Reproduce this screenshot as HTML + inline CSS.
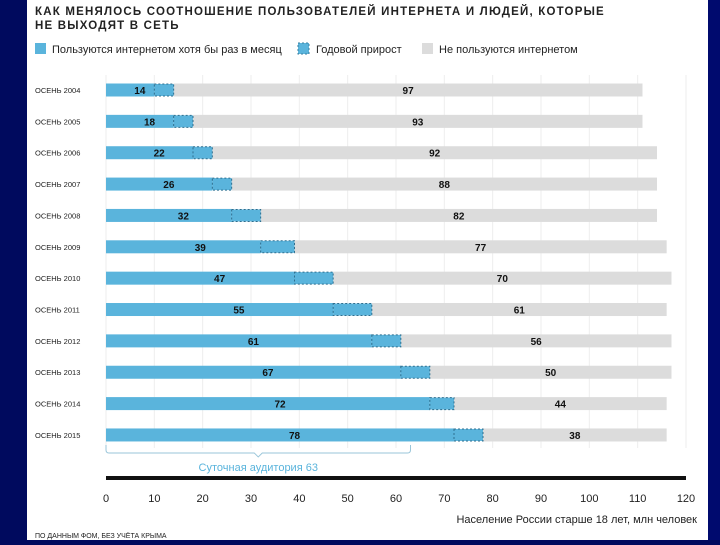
<!DOCTYPE html>
<html><head><meta charset="utf-8"><style>
body{margin:0;width:720px;height:540px;overflow:hidden;background:#000a5e;font-family:"Liberation Sans","Noto Sans CJK SC",sans-serif}
#wrap{position:absolute;left:0;top:0;width:720px;height:540px}
</style></head><body>
<div id="wrap">
<svg id="chart" width="720" height="540">
  <rect x="0" y="0" width="27" height="540" fill="#000a5e"/>
  <rect x="27" y="0" width="681" height="540" fill="#ffffff"/>
  <rect x="708" y="0" width="12" height="540" fill="#000a6e"/>
  <text x="35" y="15" font-size="11.5" font-weight="bold" letter-spacing="1.2" fill="#222">КАК МЕНЯЛОСЬ СООТНОШЕНИЕ ПОЛЬЗОВАТЕЛЕЙ ИНТЕРНЕТА И ЛЮДЕЙ, КОТОРЫЕ</text>
  <text x="35" y="29" font-size="11.5" font-weight="bold" letter-spacing="1.2" fill="#222">НЕ ВЫХОДЯТ В СЕТЬ</text>
  <g>
    <rect x="35" y="43" width="11" height="11" fill="#5ab4dc"/>
    <text x="52" y="53" font-size="11" fill="#222">Пользуются интернетом хотя бы раз в месяц</text>
    <rect x="298" y="43" width="11" height="11" fill="#5ab4dc" stroke="#3a7fa0" stroke-dasharray="2,2"/>
    <text x="316" y="53" font-size="11" fill="#222">Годовой прирост</text>
    <rect x="422" y="43" width="11" height="11" fill="#dcdcdc"/>
    <text x="439" y="53" font-size="11" fill="#222">Не пользуются интернетом</text>
  </g>
  <g id="grid"></g>
  <g id="bars"></g>
  <g id="axis"></g>
  <text x="697" y="523" font-size="11" fill="#222" text-anchor="end">Население России старше 18 лет, млн человек</text>
  <text x="35" y="538" font-size="7" fill="#222">ПО ДАННЫМ ФОМ, БЕЗ УЧЁТА КРЫМА</text>
</svg>
</div>
<script>
const categories = ["ОСЕНЬ 2004","ОСЕНЬ 2005","ОСЕНЬ 2006","ОСЕНЬ 2007","ОСЕНЬ 2008","ОСЕНЬ 2009","ОСЕНЬ 2010","ОСЕНЬ 2011","ОСЕНЬ 2012","ОСЕНЬ 2013","ОСЕНЬ 2014","ОСЕНЬ 2015"];
const users = [14,18,22,26,32,39,47,55,61,67,72,78];
const nonUsers = [97,93,92,88,82,77,70,61,56,50,44,38];
const usersBefore2004 = 10;
const dailyAudience = 63;
const ticks = [0,10,20,30,40,50,60,70,80,90,100,110,120];

const NS="http://www.w3.org/2000/svg";
function x(v){return 106 + v*(580/120);}
function y(i){return 90 + i*31.36;}
function mk(tag,attrs,parent){const e=document.createElementNS(NS,tag);for(const k in attrs)e.setAttribute(k,attrs[k]);parent.appendChild(e);return e;}
const grid=document.getElementById('grid'),bars=document.getElementById('bars'),axis=document.getElementById('axis');
ticks.forEach(t=>{
  const l=mk('line',{x1:x(t),x2:x(t),y1:75,y2:448,stroke:'#eeeeee','stroke-width':1},grid);
  
  
  const tx=mk('text',{x:x(t),y:502,'font-size':11,fill:'#222','text-anchor':'middle'},axis);
  tx.textContent=t;
  
  
});
const al=mk('line',{x1:x(0),x2:x(120),y1:478,y2:478,stroke:'#111','stroke-width':4},axis);


categories.forEach((c,i)=>{
  const cy=y(i),h=13,top=cy-h/2;
  const prev=i===0?usersBefore2004:users[i-1];
  const lb=mk('text',{x:35,y:cy+3,'font-size':7.5,fill:'#222'},bars);
  lb.textContent=c;
  
  
  const g=mk('rect',{x:x(users[i]),y:top,width:x(users[i]+nonUsers[i])-x(users[i]),height:h,fill:'#dcdcdc'},bars);
  
  
  const b=mk('rect',{x:x(0),y:top,width:x(prev)-x(0),height:h,fill:'#5ab4dc'},bars);
  
  
  const d=mk('rect',{x:x(prev),y:top+0.5,width:x(users[i])-x(prev),height:h-1,fill:'#5ab4dc',stroke:'#2f6f8f','stroke-dasharray':'2,2','stroke-width':1},bars);
  
  
  const ut=mk('text',{x:x(users[i]/2),y:cy+4,'font-size':10,'font-weight':'bold',fill:'#111','text-anchor':'middle'},bars);
  ut.textContent=users[i];
  
  
  const nt=mk('text',{x:x(users[i]+nonUsers[i]/2),y:cy+4,'font-size':10,'font-weight':'bold',fill:'#111','text-anchor':'middle'},bars);
  nt.textContent=nonUsers[i];
  
  
});
const bx0=x(0),bx1=x(dailyAudience),bm=(bx0+bx1)/2,by=y(11)+10;
const br=mk('path',{d:`M${bx0} ${by} v5 q0 3 3 3 H${bm-4} l4 4 l4 -4 H${bx1-3} q3 0 3 -3 v-5`,fill:'none',stroke:'#9ac6da','stroke-width':1},bars);


const bt=mk('text',{x:bm,y:by+26,'font-size':11,fill:'#5ab4dc','text-anchor':'middle'},bars);
bt.textContent='Суточная аудитория '+dailyAudience;


</script>
</body></html>
